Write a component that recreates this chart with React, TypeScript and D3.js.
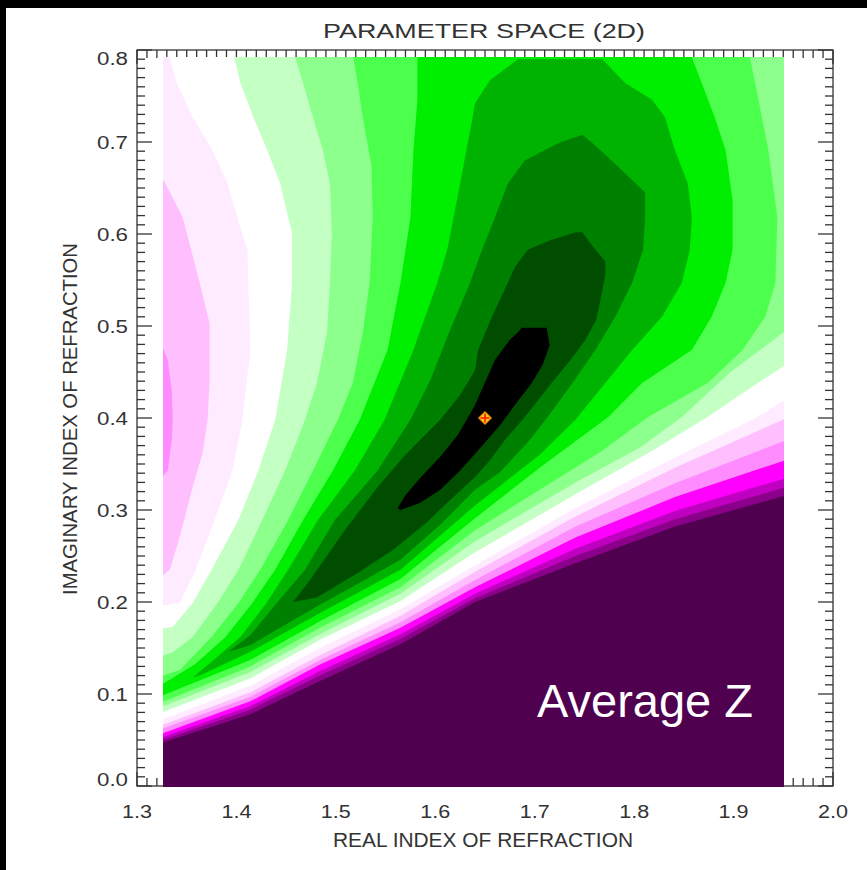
import React from "react";
import * as d3 from "d3";

const W = 867;
const H = 870;
const frame = { left: 137, right: 833, top: 50, bottom: 786 };

// axes
const realRange = [1.3, 2.0];
const imagRange = [0.0, 0.8];
const realTicks = [1.3, 1.4, 1.5, 1.6, 1.7, 1.8, 1.9, 2.0];
const imagTicks = [0.0, 0.1, 0.2, 0.3, 0.4, 0.5, 0.6, 0.7, 0.8];

// extent of the coloured grid
const gridReal = [1.326, 1.951];
const gridImag = [0.0, 0.792];

// best fit marker
const bestFit = [1.65, 0.4];

// colour of each band, lowest Z first
const bandColors = [
  "#000000", "#004d00", "#008000", "#00b300", "#00ee00", "#4dff4d", "#8cff8c", "#c4ffc4",
  "#ffffff", "#ffebff", "#ffbfff", "#ff8cff", "#ff00ff", "#c000c0", "#8a008a", "#4f004f",
];

// region with Z <= level k, as [real, imaginary] outlines
const level0 = [[1.687,0.498],[1.712,0.498],[1.715,0.479],[1.708,0.458],[1.697,0.438],[1.680,0.414],[1.665,0.392],[1.645,0.367],[1.625,0.343],[1.605,0.322],[1.585,0.308],[1.565,0.300],[1.562,0.302],[1.570,0.316],[1.585,0.335],[1.605,0.358],[1.623,0.382],[1.640,0.414],[1.660,0.463],[1.675,0.485],[1.683,0.493]];
const level1 = [[1.457,0.200],[1.474,0.224],[1.509,0.278],[1.542,0.325],[1.570,0.360],[1.605,0.398],[1.625,0.425],[1.640,0.452],[1.643,0.474],[1.657,0.510],[1.673,0.547],[1.680,0.564],[1.693,0.583],[1.715,0.593],[1.741,0.602],[1.748,0.602],[1.756,0.590],[1.771,0.570],[1.771,0.555],[1.766,0.528],[1.762,0.507],[1.751,0.485],[1.736,0.463],[1.717,0.438],[1.690,0.401],[1.670,0.376],[1.655,0.354],[1.640,0.336],[1.615,0.311],[1.592,0.287],[1.558,0.257],[1.524,0.233],[1.481,0.205]];
const level2 = [[1.392,0.146],[1.414,0.164],[1.439,0.197],[1.469,0.235],[1.499,0.289],[1.542,0.343],[1.575,0.398],[1.595,0.441],[1.615,0.496],[1.635,0.547],[1.647,0.583],[1.660,0.618],[1.673,0.655],[1.690,0.680],[1.724,0.699],[1.748,0.708],[1.758,0.699],[1.784,0.673],[1.811,0.645],[1.811,0.618],[1.809,0.583],[1.798,0.547],[1.781,0.510],[1.761,0.474],[1.738,0.438],[1.713,0.401],[1.695,0.376],[1.665,0.341],[1.640,0.322],[1.605,0.284],[1.565,0.246],[1.524,0.221],[1.484,0.197],[1.444,0.172],[1.414,0.153]];
const level3 = [[1.356,0.118],[1.375,0.135],[1.404,0.162],[1.429,0.197],[1.452,0.235],[1.482,0.289],[1.519,0.343],[1.549,0.398],[1.578,0.474],[1.602,0.547],[1.612,0.583],[1.625,0.655],[1.637,0.724],[1.640,0.742],[1.655,0.767],[1.683,0.790],[1.768,0.790],[1.791,0.764],[1.818,0.746],[1.831,0.727],[1.841,0.691],[1.854,0.655],[1.858,0.618],[1.856,0.583],[1.848,0.547],[1.828,0.510],[1.798,0.474],[1.771,0.438],[1.741,0.398],[1.705,0.360],[1.640,0.305],[1.565,0.235],[1.484,0.188],[1.414,0.146],[1.363,0.120]];
const level4 = [[1.32,0.107],[1.358,0.132],[1.389,0.162],[1.416,0.199],[1.439,0.235],[1.467,0.289],[1.497,0.343],[1.524,0.398],[1.552,0.474],[1.565,0.547],[1.575,0.618],[1.578,0.691],[1.582,0.746],[1.582,0.80],[1.858,0.80],[1.858,0.792],[1.868,0.764],[1.881,0.727],[1.892,0.691],[1.899,0.637],[1.899,0.583],[1.892,0.547],[1.878,0.510],[1.858,0.474],[1.808,0.438],[1.774,0.401],[1.705,0.346],[1.640,0.291],[1.565,0.225],[1.484,0.179],[1.414,0.137],[1.32,0.096]];
const level5 = [[1.32,0.118],[1.343,0.126],[1.375,0.162],[1.402,0.199],[1.424,0.235],[1.452,0.289],[1.477,0.343],[1.502,0.398],[1.517,0.438],[1.527,0.492],[1.534,0.547],[1.537,0.618],[1.536,0.673],[1.527,0.727],[1.522,0.764],[1.516,0.80],[1.915,0.80],[1.925,0.746],[1.935,0.691],[1.944,0.618],[1.942,0.547],[1.932,0.510],[1.909,0.474],[1.874,0.438],[1.814,0.401],[1.766,0.363],[1.705,0.322],[1.640,0.278],[1.565,0.216],[1.484,0.172],[1.414,0.130],[1.32,0.089]];
const level6 = [[1.32,0.140],[1.336,0.145],[1.356,0.162],[1.381,0.199],[1.402,0.235],[1.426,0.289],[1.449,0.343],[1.469,0.398],[1.481,0.438],[1.491,0.492],[1.494,0.547],[1.496,0.601],[1.494,0.655],[1.487,0.691],[1.477,0.727],[1.467,0.764],[1.457,0.80],[1.96,0.80],[1.96,0.501],[1.897,0.450],[1.848,0.401],[1.806,0.368],[1.741,0.330],[1.640,0.266],[1.565,0.209],[1.484,0.165],[1.414,0.124],[1.32,0.084]];
const level7 = [[1.32,0.170],[1.336,0.173],[1.356,0.199],[1.375,0.235],[1.402,0.289],[1.422,0.343],[1.439,0.398],[1.451,0.474],[1.456,0.547],[1.456,0.601],[1.452,0.618],[1.444,0.655],[1.431,0.691],[1.417,0.727],[1.404,0.764],[1.396,0.80],[1.96,0.80],[1.96,0.463],[1.917,0.433],[1.874,0.401],[1.816,0.363],[1.741,0.317],[1.640,0.254],[1.565,0.201],[1.484,0.159],[1.414,0.117],[1.32,0.078]];
const level8 = [[1.32,0.195],[1.343,0.199],[1.359,0.235],[1.378,0.289],[1.396,0.343],[1.406,0.398],[1.414,0.474],[1.412,0.547],[1.411,0.583],[1.401,0.618],[1.391,0.655],[1.376,0.691],[1.356,0.727],[1.340,0.764],[1.331,0.80],[1.96,0.80],[1.96,0.425],[1.919,0.398],[1.841,0.357],[1.741,0.302],[1.640,0.240],[1.565,0.192],[1.484,0.150],[1.414,0.109],[1.32,0.070]];
const level9 = [[1.32,0.224],[1.333,0.235],[1.343,0.271],[1.356,0.325],[1.366,0.362],[1.371,0.398],[1.373,0.438],[1.373,0.503],[1.363,0.547],[1.346,0.618],[1.32,0.673],[1.32,0.80],[1.96,0.80],[1.96,0.403],[1.841,0.346],[1.741,0.293],[1.640,0.233],[1.565,0.185],[1.484,0.142],[1.414,0.102],[1.32,0.064]];
const level10 = [[1.32,0.329],[1.331,0.343],[1.335,0.376],[1.336,0.398],[1.335,0.430],[1.331,0.463],[1.32,0.492],[1.32,0.80],[1.96,0.80],[1.96,0.379],[1.841,0.329],[1.741,0.282],[1.640,0.224],[1.565,0.178],[1.484,0.137],[1.414,0.097],[1.32,0.060]];
const level11 = [[1.32,0.80],[1.96,0.80],[1.96,0.357],[1.841,0.314],[1.741,0.270],[1.640,0.216],[1.565,0.172],[1.484,0.132],[1.414,0.092],[1.32,0.055]];
const level12 = [[1.32,0.80],[1.96,0.80],[1.96,0.337],[1.841,0.299],[1.741,0.258],[1.640,0.209],[1.565,0.165],[1.484,0.125],[1.414,0.087],[1.32,0.051]];
const level13 = [[1.32,0.80],[1.96,0.80],[1.96,0.327],[1.841,0.290],[1.741,0.250],[1.640,0.204],[1.565,0.160],[1.484,0.120],[1.414,0.083],[1.32,0.048]];
const level14 = [[1.32,0.80],[1.96,0.80],[1.96,0.318],[1.841,0.282],[1.741,0.242],[1.640,0.200],[1.565,0.154],[1.484,0.114],[1.414,0.078],[1.32,0.045]];

const levels = [level0, level1, level2, level3, level4, level5, level6, level7,
  level8, level9, level10, level11, level12, level13, level14];

const FONT = "'Liberation Sans', Arial, sans-serif";
const INK = "#333";

function isMajor(v: number) {
  return Math.abs(v * 10 - Math.round(v * 10)) < 1e-6;
}

export default function App() {
  const x = d3.scaleLinear().domain(realRange).range([frame.left, frame.right]);
  const y = d3.scaleLinear().domain(imagRange).range([frame.bottom, frame.top]);

  const outline = d3
    .line<number[]>()
    .x((d) => x(d[0]))
    .y((d) => y(d[1]))
    .curve(d3.curveLinearClosed);

  const minorX = x.ticks(70);
  const minorY = y.ticks(80);

  // snap the image box to whole pixels so no colour seams show at its edges
  const gx0 = Math.round(x(gridReal[0]));
  const gx1 = Math.round(x(gridReal[1]));
  const gy0 = Math.round(y(gridImag[1]));
  const gy1 = Math.round(y(gridImag[0])) + 1;

  const bx = x(bestFit[0]);
  const by = y(bestFit[1]);

  return (
    <svg
      width={W}
      height={H}
      style={{ position: "absolute", left: 0, top: 0, display: "block" }}
    >
      <rect width={W} height={H} fill="#000" />
      <rect x={6} y={8} width={W - 6} height={H - 8} fill="#fff" />

      {/* frame and ticks */}
      <g stroke={INK} strokeWidth={1.3}>
        <rect
          x={frame.left}
          y={frame.top}
          width={frame.right - frame.left}
          height={frame.bottom - frame.top}
          fill="none"
        />
        {minorX.map((v, i) => {
          const len = isMajor(v) ? 14 : 8;
          return (
            <g key={"tx" + i}>
              <line x1={x(v)} x2={x(v)} y1={frame.bottom} y2={frame.bottom - len} />
              <line x1={x(v)} x2={x(v)} y1={frame.top} y2={frame.top + len} />
            </g>
          );
        })}
        {minorY.map((v, i) => {
          const len = isMajor(v) ? 15 : 8;
          return (
            <g key={"ty" + i}>
              <line x1={frame.left} x2={frame.left + len} y1={y(v)} y2={y(v)} />
              <line x1={frame.right} x2={frame.right - len} y1={y(v)} y2={y(v)} />
            </g>
          );
        })}
      </g>

      <defs>
        <clipPath id="grid-clip">
          <rect x={gx0} y={gy0} width={gx1 - gx0} height={gy1 - gy0} />
        </clipPath>
      </defs>

      {/* contour bands, painted from highest Z down */}
      <rect x={gx0} y={gy0} width={gx1 - gx0} height={gy1 - gy0} fill={bandColors[15]} />
      <g clipPath="url(#grid-clip)">
        {d3.range(levels.length - 1, -1, -1).map((k) => (
          <path key={k} d={outline(levels[k]) || ""} fill={bandColors[k]} />
        ))}
      </g>

      {/* best fit */}
      <g>
        <path
          d={`M${bx},${by - 6.5}L${bx + 6.5},${by}L${bx},${by + 6.5}L${bx - 6.5},${by}Z`}
          fill="#ffc21a"
          stroke="#e08a00"
          strokeWidth={1}
        />
        <line x1={bx - 4.5} x2={bx + 4.5} y1={by} y2={by} stroke="#ff1a00" strokeWidth={1.6} />
        <line x1={bx} x2={bx} y1={by - 4.5} y2={by + 4.5} stroke="#ff1a00" strokeWidth={1.6} />
      </g>

      {/* tick labels */}
      <g fill={INK} fontFamily={FONT} fontSize={18}>
        {realTicks.map((v) => (
          <text
            key={"lx" + v}
            x={x(v)}
            y={818}
            textAnchor="middle"
            textLength={30}
            lengthAdjust="spacingAndGlyphs"
          >
            {v.toFixed(1)}
          </text>
        ))}
        {imagTicks.map((v, i) => {
          let base = y(v) + 6.5;
          if (i === imagTicks.length - 1) base = y(v) + 15;
          if (i === 0) base = y(v) - 0.5;
          return (
            <text
              key={"ly" + v}
              x={128}
              y={base}
              textAnchor="end"
              textLength={31}
              lengthAdjust="spacingAndGlyphs"
            >
              {v.toFixed(1)}
            </text>
          );
        })}
      </g>

      {/* titles */}
      <text
        x={484}
        y={38}
        textAnchor="middle"
        fontFamily={FONT}
        fontSize={20}
        fill={INK}
        textLength={322}
        lengthAdjust="spacingAndGlyphs"
      >
        PARAMETER SPACE (2D)
      </text>
      <text
        x={483}
        y={847}
        textAnchor="middle"
        fontFamily={FONT}
        fontSize={19.5}
        fill={INK}
        textLength={300}
        lengthAdjust="spacingAndGlyphs"
      >
        REAL INDEX OF REFRACTION
      </text>
      <text
        transform={`translate(77,419) rotate(-90)`}
        textAnchor="middle"
        fontFamily={FONT}
        fontSize={19.5}
        fill={INK}
        textLength={352}
        lengthAdjust="spacingAndGlyphs"
      >
        IMAGINARY INDEX OF REFRACTION
      </text>

      <text x={537} y={717} fontFamily={FONT} fontSize={47} fill="#fff">
        Average Z
      </text>
    </svg>
  );
}
